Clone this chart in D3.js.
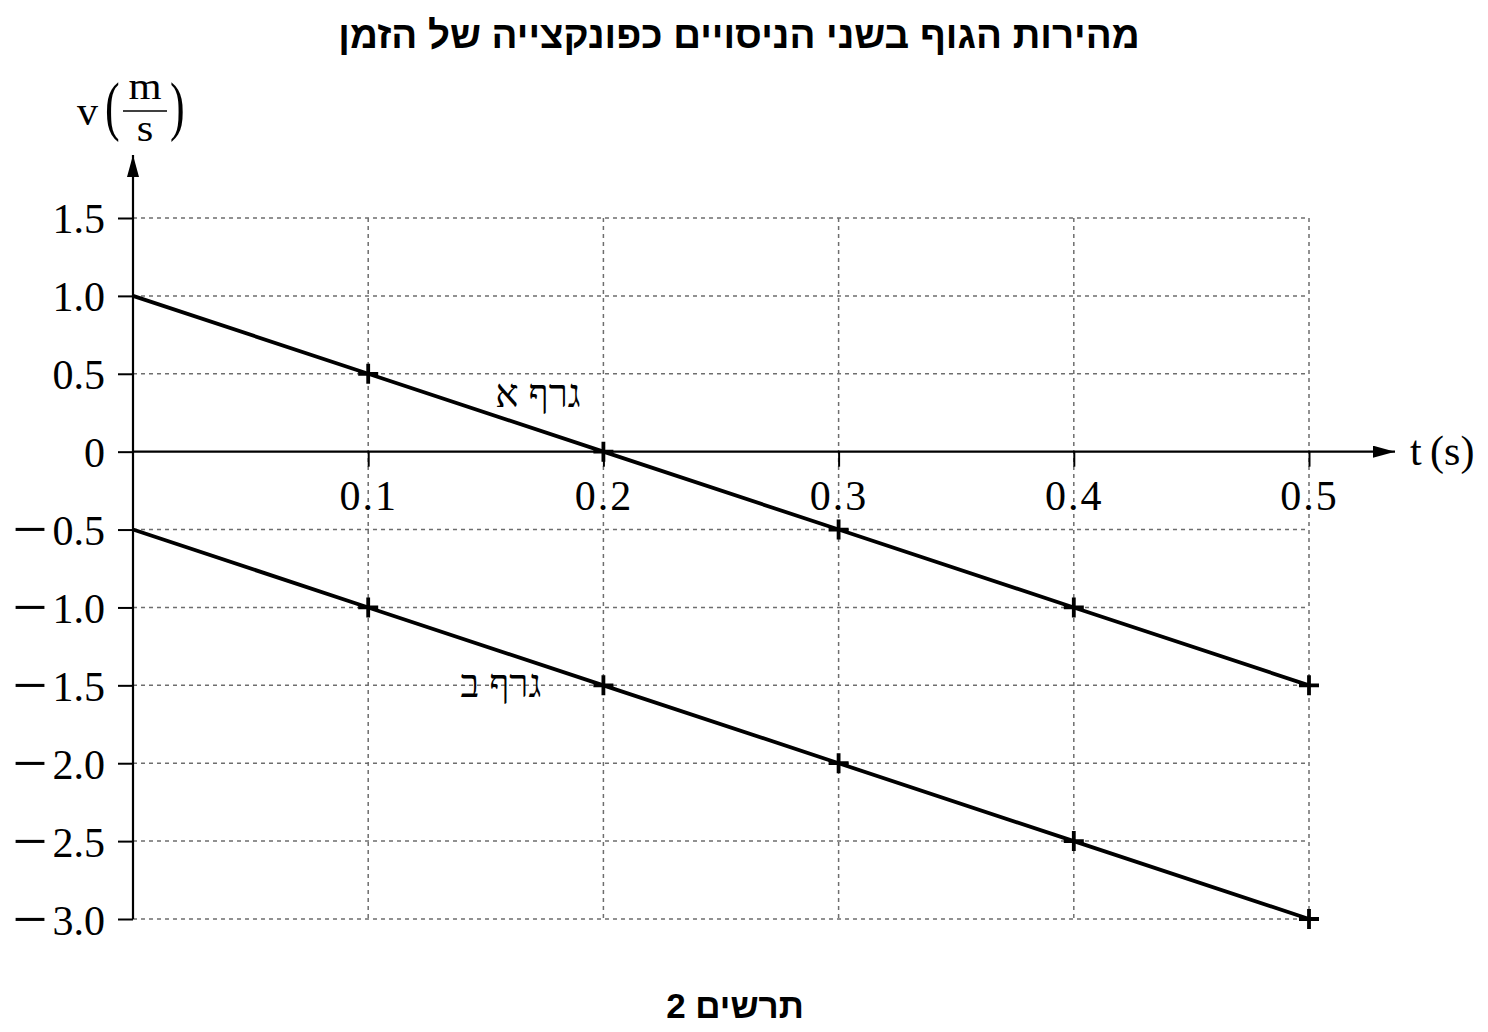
<!DOCTYPE html>
<html>
<head>
<meta charset="utf-8">
<script src="https://cdn.jsdelivr.net/npm/d3@7"></script>
<style>
  body { margin: 0; background: #fff; }
  .tick text { font-family: "Liberation Serif", serif; font-size: 42px; fill: #000; }
</style>
</head>
<body>
<div id="chart"></div>
<script>
// data
var times = [0, 0.1, 0.2, 0.3, 0.4, 0.5];
var speedA = [1.0, 0.5, 0, -0.5, -1.0, -1.5];
var speedB = [-0.5, -1.0, -1.5, -2.0, -2.5, -3.0];
var xTicks = [0.1, 0.2, 0.3, 0.4, 0.5];
var yTicks = [1.5, 1.0, 0.5, 0, -0.5, -1.0, -1.5, -2.0, -2.5, -3.0];

var titleText = "מהירות הגוף בשני הניסויים כפונקצייה של הזמן";
var captionText = "תרשים 2";
var labelA = "גרף א";
var labelB = "גרף ב";

var W = 1488, H = 1032;

var svg = d3.select("#chart").append("svg")
    .attr("width", W)
    .attr("height", H);

var x = d3.scaleLinear().domain([0, 0.5]).range([133, 1309]);
var y = d3.scaleLinear().domain([-3, 1.5]).range([919, 218]);

var serif = "Liberation Serif, serif";

// arrow marker
var defs = svg.append("defs");
defs.append("marker")
    .attr("id", "arrow")
    .attr("viewBox", "0 0 22 12")
    .attr("refX", 22).attr("refY", 6)
    .attr("markerWidth", 22).attr("markerHeight", 12)
    .attr("markerUnits", "userSpaceOnUse")
    .attr("orient", "auto")
    .append("path")
    .attr("d", "M0,0 L22,6 L0,12 Z")
    .attr("fill", "#000");

// grid
var grid = svg.append("g");
grid.selectAll("line.h")
    .data(yTicks.filter(d => d !== 0))
    .enter().append("line")
    .attr("x1", x(0)).attr("x2", x(0.5))
    .attr("y1", d => y(d)).attr("y2", d => y(d))
    .attr("stroke", "#6e6e6e").attr("stroke-width", 1.5)
    .attr("stroke-dasharray", "4,4");
grid.selectAll("line.v")
    .data(xTicks)
    .enter().append("line")
    .attr("x1", d => x(d)).attr("x2", d => x(d))
    .attr("y1", y(1.5)).attr("y2", y(-3))
    .attr("stroke", "#6e6e6e").attr("stroke-width", 1.5)
    .attr("stroke-dasharray", "4,4");

// y axis
var yAxis = svg.append("g")
    .attr("transform", `translate(${x(0)},0)`)
    .call(d3.axisLeft(y).tickValues(yTicks).tickSize(15).tickPadding(13)
        .tickFormat(d => d === 0 ? "0" : d3.format(".1f")(Math.abs(d))));
yAxis.select(".domain").remove();
yAxis.selectAll(".tick line").attr("stroke", "#000").attr("stroke-width", 2);
yAxis.selectAll(".tick text").attr("dy", "0.35em");

// long LaTeX-style minus sign in front of negative labels
yAxis.selectAll(".tick").filter(d => d < 0).each(function() {
    var t = d3.select(this).select("text");
    var num = t.text();
    t.text(null);
    t.append("tspan").attr("font-size", 62).attr("dy", 20).text("\u2212");
    t.append("tspan").attr("dx", 5).attr("dy", -5).text(num);
});

svg.append("line")
    .attr("x1", x(0)).attr("x2", x(0))
    .attr("y1", y(-3)).attr("y2", 155)
    .attr("stroke", "#000").attr("stroke-width", 2.2)
    .attr("marker-end", "url(#arrow)");

// x axis
var xAxis = svg.append("g")
    .attr("transform", `translate(0,${y(0)})`)
    .call(d3.axisBottom(x).tickValues(xTicks).tickSize(15).tickPadding(14)
        .tickFormat(d3.format(".1f")));
xAxis.select(".domain").remove();
xAxis.selectAll(".tick line").attr("stroke", "#000").attr("stroke-width", 2);
xAxis.selectAll(".tick text").attr("letter-spacing", 2);

svg.append("line")
    .attr("x1", x(0)).attr("x2", 1395)
    .attr("y1", y(0)).attr("y2", y(0))
    .attr("stroke", "#000").attr("stroke-width", 2.2)
    .attr("marker-end", "url(#arrow)");

svg.append("text")
    .attr("x", 1410).attr("y", y(0) + 13)
    .attr("font-family", serif).attr("font-size", 42)
    .text("t\u2009(s)");

// y axis label v(m/s)
var yl = svg.append("g").attr("font-family", serif).attr("fill", "#000");
yl.append("text").attr("x", 77).attr("y", 125).attr("font-size", 42).text("v");
yl.append("text").attr("x", 105).attr("y", 128).attr("font-size", 44)
    .attr("transform", "translate(105,128) scale(1,1.5) translate(-105,-128)").text("(");
yl.append("text").attr("x", 170).attr("y", 128).attr("font-size", 44)
    .attr("transform", "translate(170,128) scale(1,1.5) translate(-170,-128)").text(")");
yl.append("text").attr("x", 145).attr("y", 99).attr("font-size", 38)
    .attr("text-anchor", "middle")
    .attr("transform", "translate(145,99) scale(1.12,1) translate(-145,-99)").text("m");
yl.append("line").attr("x1", 123).attr("x2", 167).attr("y1", 111).attr("y2", 111)
    .attr("stroke", "#000").attr("stroke-width", 1.5);
yl.append("text").attr("x", 145).attr("y", 141).attr("font-size", 38)
    .attr("text-anchor", "middle")
    .attr("transform", "translate(145,141) scale(1.12,1) translate(-145,-141)").text("s");

// lines
var line = d3.line()
    .x(d => x(d[0]))
    .y(d => y(d[1]));

[speedA, speedB].forEach(function(series) {
    var pts = times.map((t, i) => [t, series[i]]);
    svg.append("path")
        .datum(pts)
        .attr("d", line)
        .attr("fill", "none")
        .attr("stroke", "#000")
        .attr("stroke-width", 3.8);

    // plus markers
    svg.selectAll(null)
        .data(pts.filter(p => p[0] > 0))
        .enter().append("path")
        .attr("d", p => {
            var cx = x(p[0]), cy = y(p[1]), s = 10;
            return `M${cx - s},${cy}H${cx + s}M${cx},${cy - s}V${cy + s}`;
        })
        .attr("stroke", "#000")
        .attr("stroke-width", 3.8);
});

// line labels
svg.append("text")
    .attr("x", 538).attr("y", 407)
    .attr("text-anchor", "middle").attr("direction", "rtl")
    .attr("font-family", serif).attr("font-size", 39)
    .text(labelA);
svg.append("text")
    .attr("x", 501).attr("y", 697)
    .attr("text-anchor", "middle").attr("direction", "rtl")
    .attr("font-family", serif).attr("font-size", 39)
    .text(labelB);

// title and caption
svg.append("text")
    .attr("x", 739).attr("y", 48)
    .attr("text-anchor", "middle").attr("direction", "rtl")
    .attr("font-family", "Liberation Sans, sans-serif").attr("font-weight", "bold")
    .attr("font-size", 38.5)
    .text(titleText);
svg.append("text")
    .attr("x", 735).attr("y", 1018)
    .attr("text-anchor", "middle").attr("direction", "rtl")
    .attr("font-family", "Liberation Sans, sans-serif").attr("font-weight", "bold")
    .attr("font-size", 35)
    .text(captionText);
</script>
</body>
</html>
